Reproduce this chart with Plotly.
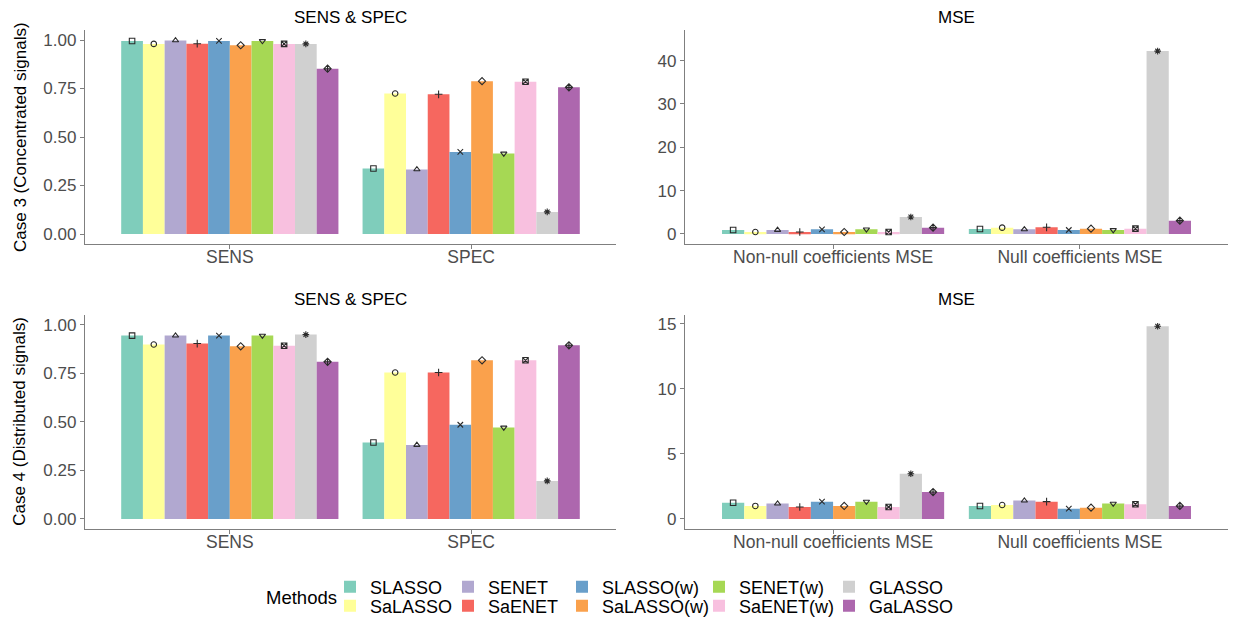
import plotly.graph_objects as go

W, H = 1238, 621

methods = ["SLASSO", "SaLASSO", "SENET", "SaENET", "SLASSO(w)",
           "SaLASSO(w)", "SENET(w)", "SaENET(w)", "GLASSO", "GaLASSO"]
colors = ["#7FCDBB", "#FFFF99", "#B1A8D0", "#F6675F", "#699FCA",
          "#FAA14C", "#A6D854", "#F8C0DF", "#D0D0D0", "#AD67AE"]
symbols = ["square-open", "circle-open", "triangle-up-open", "cross-thin-open",
           "x-thin-open", "diamond-open", "triangle-down-open", "square-x-open",
           "asterisk-open", "diamond-cross-open"]

ss_cats = ["SENS", "SPEC"]
mse_cats = ["Non-null coefficients MSE", "Null coefficients MSE"]

# Case 3 (Concentrated signals)
c3_sens = [0.995, 0.980, 0.998, 0.981, 0.995, 0.973, 0.995, 0.980, 0.980, 0.852]
c3_spec = [0.338, 0.724, 0.333, 0.720, 0.423, 0.788, 0.415, 0.785, 0.114, 0.756]
c3_nonnull = [0.92, 0.46, 0.92, 0.46, 1.08, 0.46, 1.08, 0.46, 3.92, 1.46]
c3_null = [1.15, 1.46, 1.08, 1.54, 0.92, 1.23, 0.92, 1.23, 42.2, 3.08]

# Case 4 (Distributed signals)
c4_sens = [0.944, 0.898, 0.944, 0.903, 0.944, 0.889, 0.944, 0.892, 0.949, 0.809]
c4_spec = [0.394, 0.754, 0.381, 0.754, 0.485, 0.817, 0.471, 0.817, 0.196, 0.894]
c4_nonnull = [1.25, 1.00, 1.18, 0.92, 1.33, 1.00, 1.33, 0.92, 3.48, 2.07]
c4_null = [1.00, 1.07, 1.41, 1.33, 0.79, 0.87, 1.18, 1.13, 14.82, 1.00]

panels = [
    ("x", "y", ss_cats, c3_sens, c3_spec),
    ("x2", "y2", mse_cats, c3_nonnull, c3_null),
    ("x3", "y3", ss_cats, c4_sens, c4_spec),
    ("x4", "y4", mse_cats, c4_nonnull, c4_null),
]

fig = go.Figure()
for p, (xa, ya, cats, v1, v2) in enumerate(panels):
    for i, m in enumerate(methods):
        yv = [v1[i], v2[i]]
        fig.add_trace(go.Bar(
            x=cats, y=yv, name=m, xaxis=xa, yaxis=ya,
            marker=dict(color=colors[i], line=dict(width=0)),
            offsetgroup=str(i), showlegend=(p == 0),
            legend=("legend" if i == 0 else "legend%d" % (i + 1)),
            hoverinfo="skip"))
    for i, m in enumerate(methods):
        yv = [v1[i], v2[i]]
        fig.add_trace(go.Scatter(
            x=cats, y=yv, name=m, xaxis=xa, yaxis=ya, mode="markers",
            offsetgroup=str(i), showlegend=False,
            marker=dict(symbol=symbols[i], size=5.5, color="#2B2B2B",
                        line=dict(width=1.1, color="#2B2B2B")),
            hoverinfo="skip"))

def fx(px):
    return px / W

def fy(py):
    return 1 - py / H

xdom_l = [fx(85), fx(616)]
xdom_r = [fx(685), fx(1228)]
ydom_t = [fy(243.7), fy(30.3)]
ydom_b = [fy(528.7), fy(315)]

axis_line = "#7F7F7F"
FONT = "Liberation Sans, Arial"
tick_font = dict(family=FONT, size=17, color="#4D4D4D")

def xaxis(dom, anchor):
    return dict(domain=dom, anchor=anchor, type="category", range=[-0.6, 1.6],
                showline=True, linecolor=axis_line, linewidth=1.3,
                ticks="outside", ticklen=4, tickcolor=axis_line, tickwidth=1.3,
                tickfont=dict(family=FONT, size=17.5, color="#4D4D4D"),
                ticklabelstandoff=-7,
                showgrid=False, zeroline=False, automargin=False, fixedrange=True)

def yaxis(dom, anchor, rng, dtick, fmt):
    return dict(domain=dom, anchor=anchor, range=rng, dtick=dtick, tick0=0,
                tickformat=fmt, showline=True, linecolor=axis_line, linewidth=1.3,
                ticks="outside", ticklen=4, tickcolor=axis_line, tickwidth=1.3,
                tickfont=tick_font, showgrid=False, zeroline=False,
                automargin=False, fixedrange=True)

layout = dict(
    width=W, height=H,
    margin=dict(l=0, r=0, t=0, b=0, autoexpand=False),
    paper_bgcolor="white", plot_bgcolor="white",
    barmode="group", bargap=0.1, bargroupgap=0,
    scattermode="group", scattergap=0.1,
    font=dict(family=FONT, color="black"),
    xaxis=xaxis(xdom_l, "y"), yaxis=yaxis(ydom_t, "x", [-0.05, 1.05], 0.25, ".2f"),
    xaxis2=xaxis(xdom_r, "y2"), yaxis2=yaxis(ydom_t, "x2", [-2.24, 47.0], 10, "d"),
    xaxis3=xaxis(xdom_l, "y3"), yaxis3=yaxis(ydom_b, "x3", [-0.05, 1.05], 0.25, ".2f"),
    xaxis4=xaxis(xdom_r, "y4"), yaxis4=yaxis(ydom_b, "x4", [-0.75, 15.69], 5, "d"),
)

# legends: 5 columns x 2 rows (column-major order like the reference)
col_x = [350, 468, 582, 719, 849]
row_y = [587, 606]
for i in range(len(methods)):
    col, row = i // 2, i % 2
    key = "legend" if i == 0 else "legend%d" % (i + 1)
    layout[key] = dict(
        x=fx(col_x[col] - 20), y=fy(row_y[row]), xanchor="left", yanchor="middle",
        orientation="v", bgcolor="rgba(0,0,0,0)", borderwidth=0,
        font=dict(family=FONT, size=18, color="black"),
        itemclick=False, itemdoubleclick=False)

fig.update_layout(**layout)

title_font = dict(family=FONT, size=17, color="black")
ann = [
    dict(text="SENS & SPEC", x=sum(xdom_l) / 2, y=fy(17)),
    dict(text="MSE", x=sum(xdom_r) / 2, y=fy(17)),
    dict(text="SENS & SPEC", x=sum(xdom_l) / 2, y=fy(300)),
    dict(text="MSE", x=sum(xdom_r) / 2, y=fy(300)),
]
for a in ann:
    fig.add_annotation(xref="paper", yref="paper", showarrow=False,
                       xanchor="center", yanchor="middle", font=title_font, **a)

ylab_font = dict(family=FONT, size=17, color="black")
fig.add_annotation(text="Case 3 (Concentrated signals)", xref="paper", yref="paper",
                   x=fx(20), y=sum(ydom_t) / 2, textangle=-90, showarrow=False,
                   xanchor="center", yanchor="middle", font=ylab_font)
fig.add_annotation(text="Case 4 (Distributed signals)", xref="paper", yref="paper",
                   x=fx(20), y=sum(ydom_b) / 2, textangle=-90, showarrow=False,
                   xanchor="center", yanchor="middle", font=ylab_font)
fig.add_annotation(text="Methods", xref="paper", yref="paper",
                   x=fx(301), y=fy(597), showarrow=False,
                   xanchor="center", yanchor="middle",
                   font=dict(family=FONT, size=18.5, color="black"))

fig.write_html("out.html", config={"displayModeBar": False},
               post_script="document.body.style.margin='0';document.body.style.overflow='hidden';")
